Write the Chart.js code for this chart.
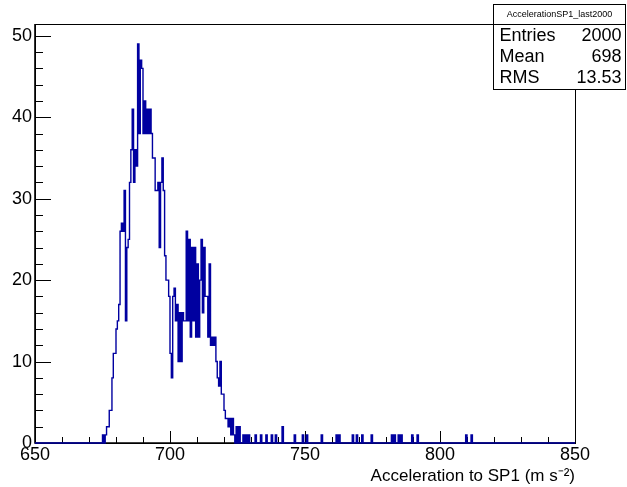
<!DOCTYPE html>
<html>
<head>
<meta charset="utf-8">
<script src="https://cdn.jsdelivr.net/npm/chart.js@4.4.1/dist/chart.umd.min.js"></script>
<style>
  html, body { margin: 0; padding: 0; background: #fff; }
  canvas { display: block; }
</style>
</head>
<body>
<canvas id="histo" width="627" height="487"></canvas>
<script>
// histogram binning (from the axis: 650..850, 0.5 wide bins)
const xLow = 650;
const xHigh = 850;
const binWidth = 0.5;

// counts of the filled part, one per bin starting at 675.0
const mainStart = 675;
const mainCounts = [
  0, 1, 0, 1, 2, 2, 4, 4, 8, 11,
  11, 14, 15, 17, 26, 27, 26, 31, 15, 24,
  25, 32, 36, 41, 32, 36, 34, 49, 38, 47,
  46, 38, 42, 38, 41, 38, 41, 38, 35, 35,
  31, 31, 32, 24, 32, 35, 31, 23, 20, 20,
  18, 11, 8, 18, 19, 15, 17, 10, 16, 10,
  16, 15, 15, 26, 15, 25, 13, 24, 15, 24,
  13, 22, 13, 20, 25, 16, 24, 18, 18, 13,
  22, 12, 13, 12, 13, 10, 8, 7, 10, 6,
  6, 4, 3, 3, 2, 3, 1, 3, 1, 0,
  2, 0, 2, 0, 0, 1, 0, 1, 0, 1
];

// scattered entries in the long tail
const tailBins = [732, 734, 736, 738, 739.5, 742, 746.5, 749.5, 751, 756.5, 762, 763,
                  768, 769.5, 771.5, 775, 782.5, 783.5, 785, 786, 790, 792, 810, 812];
const tailCounts = [1, 1, 1, 1, 1, 2, 1, 1, 1, 1, 1, 1,
                    1, 1, 1, 1, 1, 1, 1, 1, 1, 1, 1, 1];

const xTicks = [650, 700, 750, 800, 850];
const yTicks = [0, 10, 20, 30, 40, 50];
const yMax = 51.45;

const statsTitle = "AccelerationSP1_last2000";
const statsNames = ["Entries", "Mean", "RMS"];
const statsValues = ["2000", "698", "13.53"];

const xTitle = "Acceleration to SP1 (m s\u207B\u00B2)";

// build bin array
const nBins = Math.round((xHigh - xLow) / binWidth);
const counts = new Array(nBins).fill(0);
const startIdx = Math.round((mainStart - xLow) / binWidth);
mainCounts.forEach((c, i) => { counts[startIdx + i] = c; });
tailBins.forEach((b, i) => { counts[Math.floor((b - xLow) / binWidth)] += tailCounts[i]; });

const points = counts.map((c, i) => ({ x: xLow + i * binWidth, y: c }));
points.push({ x: xHigh, y: counts[nBins - 1] });

const FONT = "'Liberation Sans', Arial, sans-serif";

const frameAndTicks = {
  id: "frameAndTicks",
  beforeDatasetsDraw(chart) {
    const { ctx, chartArea: a, scales } = chart;
    ctx.save();
    ctx.strokeStyle = "#000";
    ctx.lineWidth = 1;
    ctx.strokeRect(a.left + 0.5, a.top + 0.5, a.width, a.height);
    ctx.beginPath();
    for (let v = xLow; v <= xHigh; v += 10) {
      const px = Math.round(scales.x.getPixelForValue(v)) + 0.5;
      const len = v % 50 === 0 ? 12 : 6;
      ctx.moveTo(px, a.bottom);
      ctx.lineTo(px, a.bottom - len);
    }
    for (let v = 0; v <= 50; v += 2) {
      const py = Math.round(scales.y.getPixelForValue(v)) + 0.5;
      const len = v % 10 === 0 ? 16 : 8;
      ctx.moveTo(a.left, py);
      ctx.lineTo(a.left + len, py);
    }
    ctx.stroke();
    ctx.lineWidth = 1.6;
    ctx.beginPath();
    ctx.moveTo(a.left, a.top);
    ctx.lineTo(a.left, a.bottom);
    ctx.lineTo(a.right, a.bottom);
    ctx.stroke();
    ctx.restore();
  },
  afterDraw(chart) {
    const ctx = chart.ctx;
    const bx = 493.5, by = 4.5, bw = 132, bh = 85;
    ctx.save();
    ctx.fillStyle = "#fff";
    ctx.fillRect(bx, by, bw, bh);
    ctx.strokeStyle = "#000";
    ctx.lineWidth = 1;
    ctx.strokeRect(bx, by, bw, bh);
    ctx.beginPath();
    ctx.moveTo(bx, by + 20);
    ctx.lineTo(bx + bw, by + 20);
    ctx.stroke();
    ctx.fillStyle = "#000";
    ctx.font = "9px " + FONT;
    ctx.textAlign = "center";
    ctx.textBaseline = "middle";
    ctx.fillText(statsTitle, bx + bw / 2, by + 10);
    ctx.font = "18px " + FONT;
    statsNames.forEach((n, i) => {
      const ty = by + 32 + i * 21;
      ctx.textAlign = "left";
      ctx.fillText(n, bx + 6, ty);
      ctx.textAlign = "right";
      ctx.fillText(statsValues[i], bx + bw - 4, ty);
    });
    ctx.restore();
  }
};

new Chart(document.getElementById("histo"), {
  type: "line",
  data: {
    datasets: [{
      data: points,
      stepped: "after",
      borderColor: "rgb(0, 0, 160)",
      borderWidth: 1.4,
      pointRadius: 0,
      fill: false,
      clip: false
    }]
  },
  options: {
    responsive: false,
    animation: false,
    events: [],
    layout: { padding: { top: 24, right: 52, left: 0, bottom: 0 } },
    plugins: { legend: { display: false }, tooltip: { enabled: false } },
    scales: {
      x: {
        type: "linear",
        min: xLow,
        max: xHigh,
        grid: { display: false, drawTicks: false },
        border: { display: false },
        afterBuildTicks: (s) => { s.ticks = xTicks.map(v => ({ value: v })); },
        afterFit: (s) => { s.height = 44; },
        ticks: { color: "#000", font: { family: FONT, size: 18 }, padding: 1, maxRotation: 0, autoSkip: false },
        title: {
          display: true, text: xTitle, align: "end", color: "#000",
          font: { family: FONT, size: 17 }, padding: 0
        }
      },
      y: {
        min: 0,
        max: yMax,
        grid: { display: false, drawTicks: false },
        border: { display: false },
        afterBuildTicks: (s) => { s.ticks = yTicks.map(v => ({ value: v })); },
        afterFit: (s) => { s.width = 35; },
        ticks: { color: "#000", font: { family: FONT, size: 18 }, padding: 3 }
      }
    }
  },
  plugins: [frameAndTicks]
});
</script>
</body>
</html>
